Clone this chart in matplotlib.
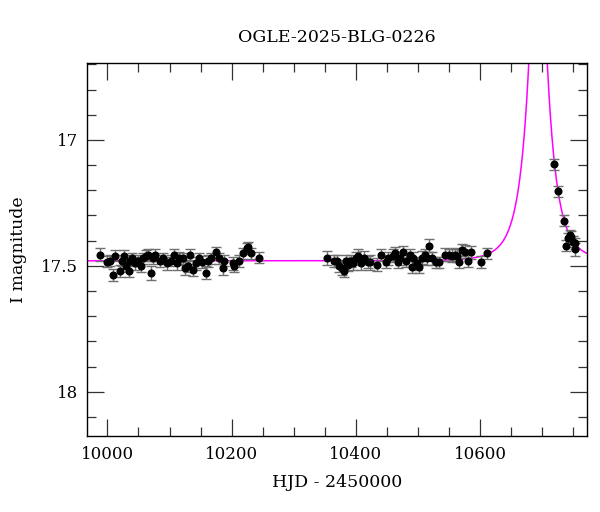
import numpy as np
import matplotlib
matplotlib.use("Agg")
import matplotlib.pyplot as plt
from matplotlib.ticker import MultipleLocator

# ---- data ----
hjd = [9988, 9999, 10004, 10009, 10013, 10020, 10024, 10027, 10030, 10035,
       10036, 10040, 10045, 10050, 10054, 10058, 10062, 10066, 10070, 10073,
       10077, 10085, 10089, 10096, 10102, 10108, 10112, 10115, 10121, 10125,
       10129, 10133, 10138, 10143, 10148, 10153, 10159, 10162, 10167, 10175,
       10180, 10186, 10188, 10202, 10204, 10212, 10218, 10224, 10227, 10231,
       10244,
       10353, 10364, 10369, 10373, 10377, 10380, 10384, 10388, 10392, 10395,
       10400, 10404, 10408, 10413, 10419, 10423, 10434, 10440, 10448, 10452,
       10459, 10463, 10467, 10471, 10476, 10480, 10487, 10490, 10492, 10498,
       10502, 10507, 10511, 10515, 10518, 10522, 10529, 10533, 10543, 10549,
       10554, 10559, 10562, 10566, 10571, 10575, 10581, 10585, 10602, 10611,
       10719, 10725, 10735, 10738, 10741, 10744, 10746, 10749, 10752, 10753]

mag = [17.455, 17.484, 17.480, 17.537, 17.460, 17.520, 17.480, 17.460, 17.500, 17.520,
       17.480, 17.470, 17.490, 17.480, 17.500, 17.470, 17.460, 17.457, 17.530, 17.470,
       17.457, 17.480, 17.470, 17.490, 17.480, 17.457, 17.490, 17.470, 17.470, 17.510,
       17.500, 17.457, 17.517, 17.490, 17.470, 17.485, 17.527, 17.480, 17.470, 17.446,
       17.470, 17.510, 17.480, 17.490, 17.500, 17.480, 17.450, 17.430, 17.426, 17.450,
       17.467,
       17.470, 17.480, 17.480, 17.500, 17.510, 17.520, 17.480, 17.495, 17.480, 17.490,
       17.470, 17.460, 17.490, 17.467, 17.485, 17.485, 17.495, 17.457, 17.485, 17.470,
       17.460, 17.450, 17.485, 17.470, 17.446, 17.480, 17.457, 17.505, 17.470, 17.490,
       17.505, 17.467, 17.457, 17.470, 17.420, 17.470, 17.485, 17.485, 17.455, 17.457,
       17.460, 17.455, 17.460, 17.485, 17.437, 17.444, 17.480, 17.446, 17.485, 17.450,
       17.097, 17.203, 17.320, 17.420, 17.390, 17.378, 17.384, 17.404, 17.410, 17.435]

err = [0.025, 0.022, 0.022, 0.025, 0.022, 0.025, 0.022, 0.022, 0.025, 0.025,
       0.022, 0.022, 0.025, 0.022, 0.025, 0.022, 0.022, 0.022, 0.028, 0.022,
       0.022, 0.025, 0.022, 0.025, 0.022, 0.022, 0.025, 0.025, 0.022, 0.025,
       0.025, 0.022, 0.025, 0.025, 0.022, 0.025, 0.025, 0.025, 0.022, 0.022,
       0.022, 0.025, 0.022, 0.025, 0.025, 0.025, 0.022, 0.022, 0.022, 0.022,
       0.022,
       0.028, 0.025, 0.025, 0.025, 0.025, 0.025, 0.022, 0.025, 0.025, 0.025,
       0.025, 0.025, 0.028, 0.025, 0.025, 0.030, 0.025, 0.022, 0.025, 0.025,
       0.025, 0.025, 0.025, 0.025, 0.025, 0.025, 0.025, 0.025, 0.025, 0.025,
       0.025, 0.025, 0.025, 0.025, 0.025, 0.025, 0.022, 0.022, 0.025, 0.025,
       0.025, 0.025, 0.025, 0.025, 0.025, 0.025, 0.025, 0.025, 0.025, 0.022,
       0.022, 0.022, 0.022, 0.022, 0.022, 0.022, 0.022, 0.022, 0.022, 0.025]

# Paczynski point-lens model parameters (estimated from the fitted curve)
t0 = 10693.0
tE = 30.5
u0 = 0.22
I0 = 17.48

title = "OGLE-2025-BLG-0226"
xlabel = "HJD - 2450000"
ylabel = "I magnitude"

# ---- figure ----
plt.rcParams['font.family'] = ['DejaVu Serif']
fig = plt.figure(figsize=(6.0, 5.12), dpi=100)
ax = fig.add_axes([0.1458, 0.1475, 0.8317, 0.7295])

t = np.linspace(9968, 10771, 3000)
u = np.sqrt(u0**2 + ((t - t0) / tE)**2)
A = (u**2 + 2) / (u * np.sqrt(u**2 + 4))
model = I0 - 2.5 * np.log10(A)
ax.plot(t, model, color='#ff00ff', lw=1.1, zorder=1)

ax.errorbar(hjd, mag, yerr=err, fmt='o', color='black', ms=4.8,
            ecolor='#707070', elinewidth=1.0, capsize=3.4, capthick=1.0,
            zorder=3)

ax.set_xlim(9968, 10771)
ax.set_ylim(18.178, 16.694)

ax.xaxis.set_major_locator(MultipleLocator(200))
ax.xaxis.set_minor_locator(MultipleLocator(50))
ax.yaxis.set_major_locator(MultipleLocator(0.5))
ax.yaxis.set_minor_locator(MultipleLocator(0.1))
ax.yaxis.set_major_formatter(matplotlib.ticker.FuncFormatter(
    lambda v, p: ('%g' % round(v, 2))))

ax.tick_params(which='both', direction='in', top=True, right=True,
               labelsize=12, color='#333333', width=0.9)
ax.tick_params(which='major', length=12.5, pad=7)
ax.tick_params(which='minor', length=6.5)
for s in ax.spines.values():
    s.set_linewidth(1.0)

ax.set_title(title, fontsize=12.5, pad=15)
ax.set_xlabel(xlabel, fontsize=12.5, labelpad=8)
ax.set_ylabel(ylabel, fontsize=12.5, labelpad=10)

fig.savefig('out.png', dpi=100)
